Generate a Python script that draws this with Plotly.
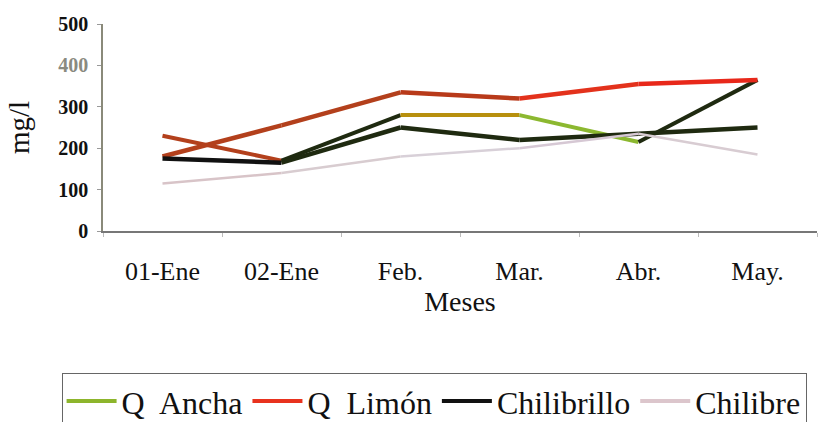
import plotly.graph_objects as go

# Monthly sampling periods
meses = ["01-Ene", "02-Ene", "Feb.", "Mar.", "Abr.", "May."]

# Concentration (mg/l) per stream
q_ancha = [230, 170, 280, 280, 215, 365]
q_limon = [180, 255, 335, 320, 355, 365]
chilibrillo = [175, 165, 250, 220, 235, 250]
chilibre = [115, 140, 180, 200, 235, 185]

# y-axis ticks
y_ticks = [0, 100, 200, 300, 400, 500]

series = [
    # name, values, legend colour, per-segment colours, width
    ("Q  Ancha", q_ancha, "#8db52c",
     ["#b3401c", "#1f2a10", "#b8900e", "#8cb830", "#1f2a10"], 4),
    ("Q  Limón", q_limon, "#e8321e",
     ["#b3401c", "#b3401c", "#b83a1a", "#e3321c", "#e8281a"], 4.5),
    ("Chilibrillo", chilibrillo, "#111111",
     ["#111111", "#1f2a10", "#1f2a10", "#1f2a10", "#1f2a10"], 4.5),
    ("Chilibre", chilibre, "#dcc6cc",
     ["#d8c4c8", "#d8ccd0", "#d8d0d8", "#d6c8d4", "#d8ccd2"], 2.5),
]

fig = go.Figure()
for name, vals, leg_col, seg_cols, w in series:
    for i, col in enumerate(seg_cols):
        fig.add_trace(go.Scatter(
            x=meses[i:i + 2], y=vals[i:i + 2], mode="lines",
            line=dict(color=col, width=w),
            legendgroup=name, showlegend=False, hoverinfo="skip",
        ))
    # legend entry in the series' key colour
    fig.add_trace(go.Scatter(
        x=[None], y=[None], mode="lines", name=name,
        line=dict(color=leg_col, width=4), legendgroup=name,
    ))

serif = "Liberation Serif, Times New Roman, serif"

# the 400 label is printed lighter than the rest
y_ticktext = [f"<span style='color:#8a8a80'>{v}</span>" if v == 400 else str(v)
              for v in y_ticks]

fig.update_layout(
    width=820, height=422,
    margin=dict(l=103, r=3, t=24, b=191, autoexpand=False),
    paper_bgcolor="white", plot_bgcolor="white",
    font=dict(family=serif, color="#111111"),
    showlegend=True,
    legend=dict(
        orientation="h", x=-0.058, y=-0.685, xanchor="left", yanchor="top",
        font=dict(family=serif, size=32, color="#111111"),
        bordercolor="#666666", borderwidth=1, bgcolor="white",
        itemwidth=50, tracegroupgap=0,
    ),
    xaxis=dict(
        type="category", range=[-0.5, 5.5],
        showline=True, linecolor="#777777", linewidth=1.5,
        showgrid=False, zeroline=False,
        ticks="outside", tickson="boundaries", ticklen=4, tickcolor="#bbbbbb",
        tickfont=dict(family=serif, size=26, color="#111111"),
        ticklabelstandoff=16,
        title=dict(text="Meses", font=dict(family=serif, size=28, color="#111111"),
                   standoff=6),
    ),
    yaxis=dict(
        range=[0, 500], tickvals=y_ticks, ticktext=y_ticktext,
        showline=True, linecolor="#8a8a7a", linewidth=1.5,
        showgrid=False, zeroline=False,
        ticks="outside", ticklen=4, tickcolor="#999999",
        tickfont=dict(family=serif, size=20, color="#111111", weight="bold"),
        ticklabelstandoff=5,
        title=dict(text="mg/l", font=dict(family=serif, size=29, color="#111111"),
                   standoff=20),
    ),
)

fig.write_html("out.html")
